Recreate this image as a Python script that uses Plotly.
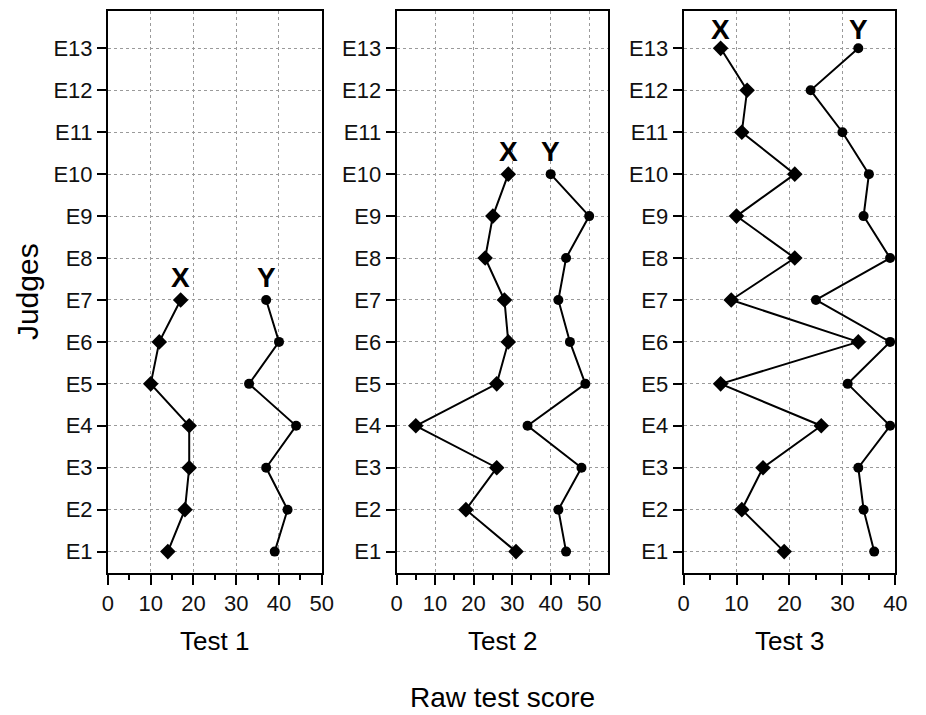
import plotly.graph_objects as go

# Judges on the vertical axis
judges = ["E1", "E2", "E3", "E4", "E5", "E6", "E7", "E8", "E9", "E10", "E11", "E12", "E13"]

# Raw scores per test for the two candidates X and Y (index 0 = E1)
test1_x = [14, 18, 19, 19, 10, 12, 17]
test1_y = [39, 42, 37, 44, 33, 40, 37]

test2_x = [31, 18, 26, 5, 26, 29, 28, 23, 25, 29]
test2_y = [44, 42, 48, 34, 49, 45, 42, 44, 50, 40]

test3_x = [19, 11, 15, 26, 7, 33, 9, 21, 10, 21, 11, 12, 7]
test3_y = [36, 34, 33, 39, 31, 39, 25, 39, 34, 35, 30, 24, 33]

test_names = ["Test 1", "Test 2", "Test 3"]
x_ranges = [[0, 50], [0, 54.9], [0, 40]]

W, H = 926, 715
FONT = "Liberation Sans, Arial, sans-serif"

# panel pixel boxes (left, right), shared top/bottom
panel_px = [(104, 322), (398.3, 614), (691, 907)]
top_px, bot_px = 11, 573

fig = go.Figure()

series = [(test1_x, test1_y), (test2_x, test2_y), (test3_x, test3_y)]
label_shift = [5, 5, 1]

for i, (sx, sy) in enumerate(series):
    xa = "x" if i == 0 else f"x{i+1}"
    ya = "y" if i == 0 else f"y{i+1}"
    fig.add_trace(go.Scatter(
        x=sx, y=judges[:len(sx)], xaxis=xa, yaxis=ya, mode="lines+markers",
        line=dict(color="black", width=2),
        marker=dict(symbol="diamond", size=12, color="black"),
        showlegend=False, cliponaxis=False))
    fig.add_trace(go.Scatter(
        x=sy, y=judges[:len(sy)], xaxis=xa, yaxis=ya, mode="lines+markers",
        line=dict(color="black", width=2),
        marker=dict(symbol="circle", size=10, color="black"),
        showlegend=False, cliponaxis=False))

    # X / Y labels above the top point of each series
    for vals, name in ((sx, "X"), (sy, "Y")):
        fig.add_annotation(
            x=vals[-1], y=len(vals) - 1, xref=xa, yref=ya,
            text=f"<b>{name}</b>", showarrow=False,
            yanchor="bottom", xanchor="center", yshift=label_shift[i],
            font=dict(family=FONT, size=28, color="black"))

    l, r = panel_px[i]
    axis_common = dict(
        showline=True, linecolor="black", linewidth=2, mirror=True,
        ticks="outside", tickwidth=2, tickcolor="black",
        showgrid=True, gridcolor="#9a9a9a", griddash="dot", gridwidth=1,
        zeroline=False,
        tickfont=dict(family=FONT, size=22, color="#111"),
    )
    xaxis = dict(
        axis_common, domain=[l / W, r / W], range=x_ranges[i],
        tickmode="linear", tick0=0, dtick=10, ticklen=10,
        minor=dict(dtick=5, tick0=0, ticks="outside", ticklen=5,
                   tickwidth=2, tickcolor="black", showgrid=False),
        anchor=ya,
    )
    yaxis = dict(
        axis_common, domain=[1 - bot_px / H, 1 - top_px / H],
        type="category", categoryorder="array", categoryarray=judges,
        range=[-0.51, 12.89], ticklen=9, anchor=xa,
    )
    fig.update_layout({("xaxis" if i == 0 else f"xaxis{i+1}"): xaxis,
                       ("yaxis" if i == 0 else f"yaxis{i+1}"): yaxis})

    # per-panel test name
    fig.add_annotation(
        x=(l + r) / 2 / W, y=1 - 641 / H, xref="paper", yref="paper",
        text=test_names[i], showarrow=False, xanchor="center", yanchor="middle",
        font=dict(family=FONT, size=26, color="black"))

fig.add_annotation(
    x=506.7 / W, y=1 - 697 / H, xref="paper", yref="paper",
    text="Raw test score", showarrow=False, xanchor="center", yanchor="middle",
    font=dict(family=FONT, size=28, color="black"))

fig.add_annotation(
    x=22 / W, y=1 - 291.5 / H, xref="paper", yref="paper",
    text="Judges", showarrow=False, textangle=-90,
    xanchor="center", yanchor="middle",
    font=dict(family=FONT, size=30, color="black"))

fig.update_layout(
    width=W, height=H,
    margin=dict(l=0, r=0, t=0, b=0),
    paper_bgcolor="white", plot_bgcolor="white",
)

fig.write_html("out.html")
